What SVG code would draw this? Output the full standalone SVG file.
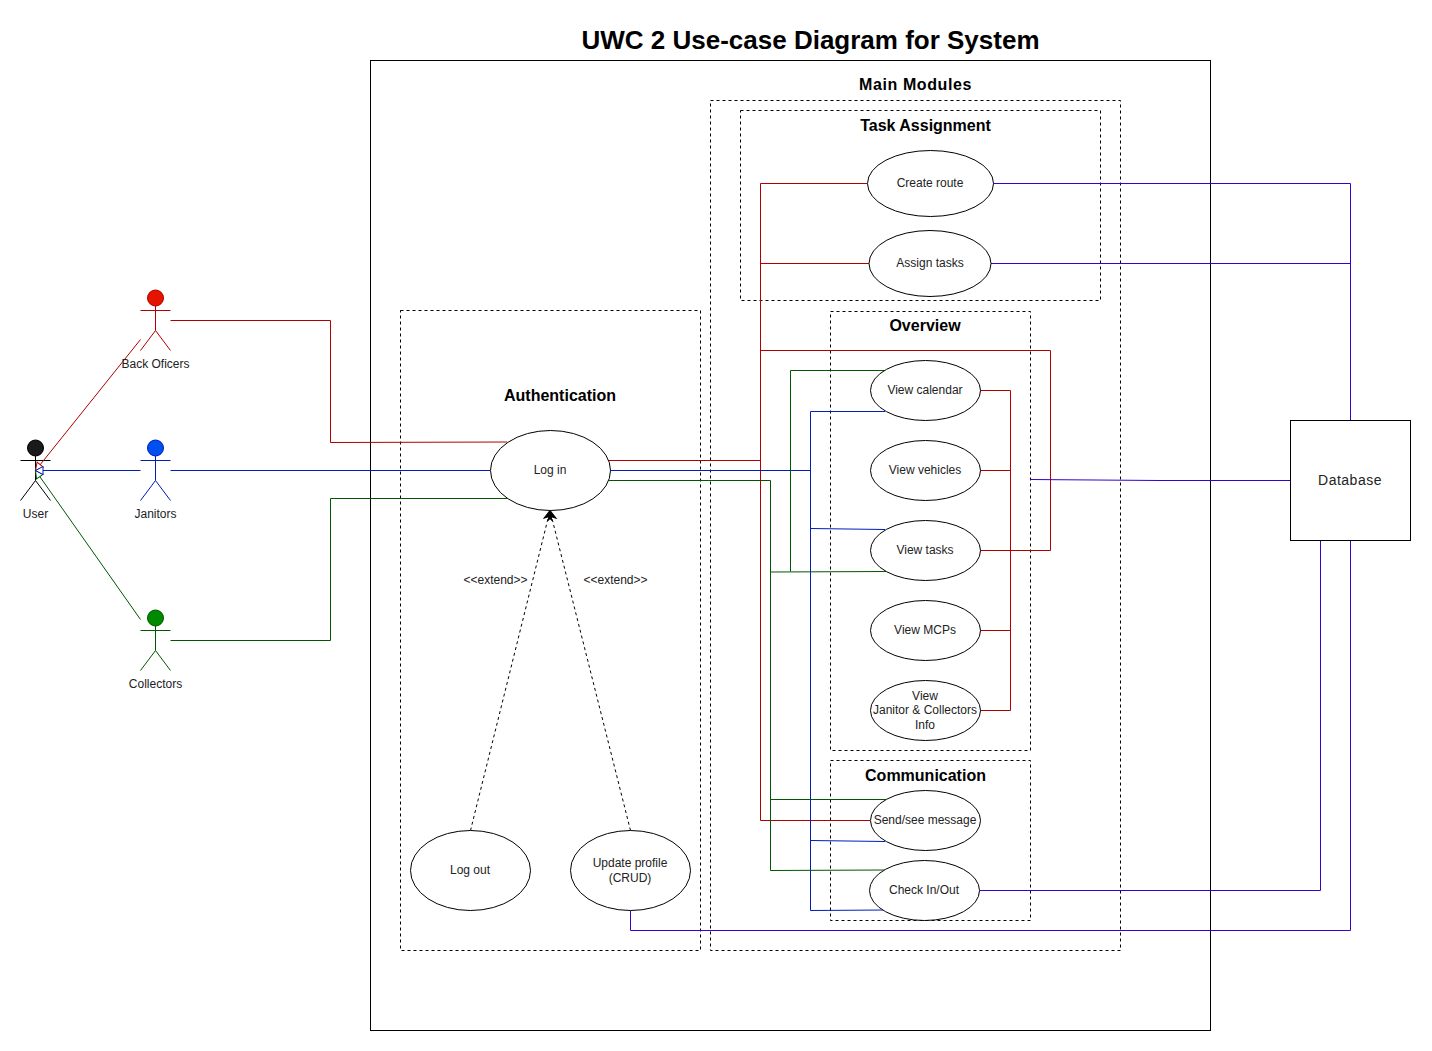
<svg xmlns="http://www.w3.org/2000/svg" width="1432" height="1051" viewBox="0 0 1432 1051">
<style>
text{font-family:"Liberation Sans",Arial,sans-serif;font-size:12px;fill:#222;text-anchor:middle}
.h{font-size:16px;font-weight:bold;fill:#000}
.t{font-size:26px;font-weight:bold;fill:#000}
.b{fill:none;stroke:#000;stroke-width:1}
.d{fill:none;stroke:#000;stroke-width:1;stroke-dasharray:3 3}
.u{fill:#fff;stroke:#000;stroke-width:1}
.c{fill:none;stroke-width:1}
.r{stroke:#b20000}.g{stroke:#005700}.l{stroke:#001dbc}.p{stroke:#3700cc}
.e{stroke:#000;stroke-dasharray:3 3;fill:none}
</style>
<defs>
<marker id="ah" markerWidth="12" markerHeight="12" refX="10" refY="5" orient="auto" markerUnits="userSpaceOnUse"><path d="M1 1L10 5L1 9L3.5 5Z" fill="#000" stroke="#000"/></marker>
<marker id="tr" markerWidth="12" markerHeight="12" refX="8.5" refY="5" orient="auto" markerUnits="userSpaceOnUse"><path d="M1 1L8.5 5L1 9Z" fill="#fff" stroke="#b20000"/></marker>
<marker id="tl" markerWidth="12" markerHeight="12" refX="8.5" refY="5" orient="auto" markerUnits="userSpaceOnUse"><path d="M1 1L8.5 5L1 9Z" fill="#fff" stroke="#001dbc"/></marker>
<marker id="tg" markerWidth="12" markerHeight="12" refX="8.5" refY="5" orient="auto" markerUnits="userSpaceOnUse"><path d="M1 1L8.5 5L1 9Z" fill="#fff" stroke="#005700"/></marker>
</defs>
<rect width="1432" height="1051" fill="#fff"/>
<text class="t" x="810.5" y="49">UWC 2 Use-case Diagram for System</text>
<g id="system"><rect class="b" x="370.5" y="60.5" width="840" height="970"/></g>
<g id="auth-box"><rect class="d" x="400.5" y="310.5" width="300" height="640"/><text class="h" x="560" y="401">Authentication</text></g>
<g id="main-box"><rect class="d" x="710.5" y="100.5" width="410" height="850"/><text class="h" x="915.5" y="90" style="letter-spacing:.6px">Main Modules</text></g>
<g id="task-box"><rect class="d" x="740.5" y="110.5" width="360" height="190"/><text class="h" x="925.5" y="131">Task Assignment</text></g>
<g id="overview-box"><rect class="d" x="830.5" y="311.5" width="200" height="439"/><text class="h" x="925" y="331">Overview</text></g>
<g id="comm-box"><rect class="d" x="830.5" y="760.5" width="200" height="160"/><text class="h" x="925.5" y="781">Communication</text></g>

<g id="user" fill="none" stroke="#000"><circle cx="35.5" cy="448" r="8" fill="#1a1a1a"/><path d="M35.5 456V480.5M20.5 460.5H50.5M20.5 500.5L35.5 480.5L50.5 500.5"/><text x="35.5" y="518" stroke="none">User</text></g>

<g id="connectors">
<path class="c r" d="M170.5 320.5H330.5V442.5L507 442"/>
<path class="c l" d="M170.5 470.5H490"/>
<path class="c g" d="M170.5 640.5H330.5V498.5H507"/>
<path class="c r" d="M140.5 339.5L35.5 470.5" marker-end="url(#tr)"/>
<path class="c g" d="M140.5 619.5L35.5 470.5" marker-end="url(#tg)"/>
<path class="c l" d="M140.5 470.5H35.5" marker-end="url(#tl)"/>
<path class="c r" d="M608 460.5H760.5M867 183.5H760.5V820.5H870M869 263.5H760.5M760.5 350.5H1050.5V550.5H980"/>
<path class="c l" d="M610 470.5H810.5M885 411.5H810.5V910.5L885 910M810.5 528.5L885 529.5M810.5 840.5L885 841.5"/>
<path class="c g" d="M608 480.5H770.5V870.5L887 870M770.5 572L887 571.5M790.5 571.5V370.5H887M770.5 799.5H887"/>
<path class="c r" d="M980 390.5H1010.5V710.5H980M980 470.5H1010.5M980 630.5H1010.5"/>
<path class="c p" d="M993 183.5H1350.5V420.5M991 263.5H1350.5M1030.5 479.5L1160 480.5H1290.5M980 890.5H1320.5V540.5M630.5 910.5V930.5H1350.5V540.5"/>
<path class="e" d="M470.5 830.5L550 510.5" marker-end="url(#ah)"/>
<path class="e" d="M630.5 830.5L550 510.5" marker-end="url(#ah)"/>
<text x="495.5" y="584">&lt;&lt;extend&gt;&gt;</text>
<text x="615.5" y="584">&lt;&lt;extend&gt;&gt;</text>
</g>

<g id="back-officers" fill="none" stroke="#b20000"><circle cx="155.5" cy="298" r="8" fill="#e51400"/><path d="M155.5 306V330.5M140.5 310.5H170.5M140.5 350.5L155.5 330.5L170.5 350.5"/><text x="155.5" y="368" stroke="none">Back Oficers</text></g>
<g id="janitors" fill="none" stroke="#001dbc"><circle cx="155.5" cy="448" r="8" fill="#0050ef"/><path d="M155.5 456V480.5M140.5 460.5H170.5M140.5 500.5L155.5 480.5L170.5 500.5"/><text x="155.5" y="518" stroke="none">Janitors</text></g>
<g id="collectors" fill="none" stroke="#005700"><circle cx="155.5" cy="618" r="8" fill="#008a00"/><path d="M155.5 626V650.5M140.5 630.5H170.5M140.5 670.5L155.5 650.5L170.5 670.5"/><text x="155.5" y="688" stroke="none">Collectors</text></g>

<g id="login"><ellipse class="u" cx="550.5" cy="470.5" rx="60" ry="40"/><text x="550" y="474">Log in</text></g>
<g id="logout"><ellipse class="u" cx="470.5" cy="870.5" rx="60" ry="40"/><text x="470" y="874">Log out</text></g>
<g id="update-profile"><ellipse class="u" cx="630.5" cy="870.5" rx="60" ry="40"/><text x="630" y="867">Update profile</text><text x="630" y="882">(CRUD)</text></g>
<g id="create-route"><ellipse class="u" cx="930.5" cy="183.5" rx="63" ry="33"/><text x="930" y="187">Create route</text></g>
<g id="assign-tasks"><ellipse class="u" cx="930" cy="263.5" rx="61" ry="33"/><text x="930" y="267">Assign tasks</text></g>
<g id="view-calendar"><ellipse class="u" cx="925.5" cy="390.5" rx="55" ry="30"/><text x="925" y="394">View calendar</text></g>
<g id="view-vehicles"><ellipse class="u" cx="925.5" cy="470.5" rx="55" ry="30"/><text x="925" y="474">View vehicles</text></g>
<g id="view-tasks"><ellipse class="u" cx="925.5" cy="550.5" rx="55" ry="30"/><text x="925" y="554">View tasks</text></g>
<g id="view-mcps"><ellipse class="u" cx="925.5" cy="630.5" rx="55" ry="30"/><text x="925" y="634">View MCPs</text></g>
<g id="view-info"><ellipse class="u" cx="925.5" cy="710.5" rx="55" ry="30"/><text x="925" y="700">View</text><text x="925" y="714">Janitor &amp; Collectors</text><text x="925" y="729">Info</text></g>
<g id="send-message"><ellipse class="u" cx="925.5" cy="820.5" rx="55" ry="30"/><text x="925" y="824">Send/see message</text></g>
<g id="check-in-out"><ellipse class="u" cx="924.5" cy="890.5" rx="55" ry="30"/><text x="924" y="894">Check In/Out</text></g>
<g id="database"><rect class="u" x="1290.5" y="420.5" width="120" height="120"/><text x="1350" y="485" style="font-size:14px;letter-spacing:.5px">Database</text></g>
</svg>
